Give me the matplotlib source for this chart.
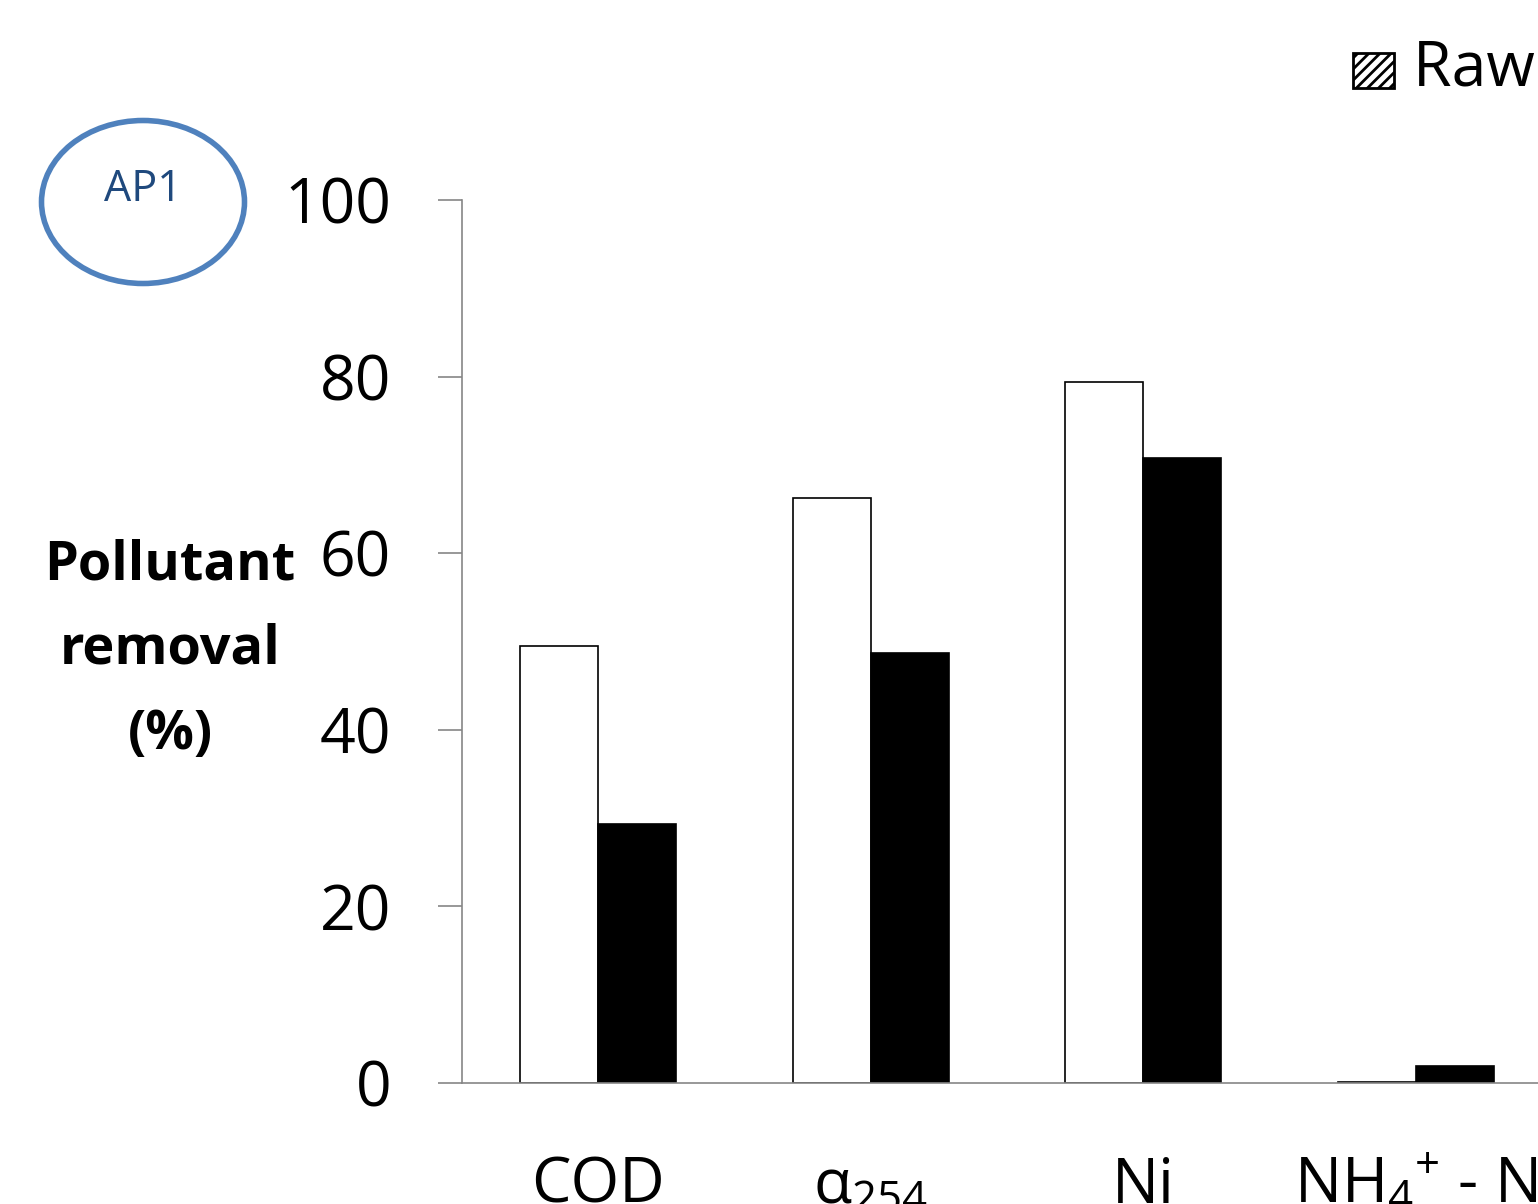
import matplotlib
matplotlib.use('Agg')
import matplotlib.pyplot as plt
from matplotlib.patches import Ellipse, Rectangle
import numpy as np

categories = ['COD', r'α$_{254}$', 'Ni', r'NH$_4$$^{+}$ - N', '']
raw_removal = [49.5, 66.2, 79.4, 0.1]
treated_removal = [29.3, 48.7, 70.8, 1.9]
y_ticks = [0, 20, 40, 60, 80, 100]

plt.rcParams['font.family'] = ['Open Sans', 'DejaVu Sans']
plt.rcParams['mathtext.default'] = 'regular'
plt.rcParams['hatch.linewidth'] = 2.0

fig = plt.figure(figsize=(15.38, 12.04), dpi=100)
# axes deliberately runs past the right edge (reference is cropped)
ax = fig.add_axes([0.3004, 0.1005, 0.886, 0.7334])

x = np.arange(len(raw_removal))
w = 0.286
ax.bar(x - w / 2, raw_removal, w, color='white', edgecolor='black', linewidth=1.2)
ax.bar(x + w / 2, treated_removal, w, color='black', edgecolor='black', linewidth=1.2)

ax.set_xlim(-0.5, 4.5)
ax.set_ylim(0, 100)
ax.set_yticks(y_ticks)
ax.tick_params(axis='y', labelsize=45, length=17, width=1.2, color='#868686', pad=34)
ax.set_xticks(np.arange(len(categories)))
ax.set_xticklabels(categories, fontsize=45)
ax.tick_params(axis='x', length=0, pad=52)

for s in ['top', 'right']:
    ax.spines[s].set_visible(False)
for s in ['left', 'bottom']:
    ax.spines[s].set_color('#868686')
    ax.spines[s].set_linewidth(1.2)

fig.text(170 / 1538, 1 - 650 / 1204, 'Pollutant\nremoval\n(%)', ha='center', va='center',
         fontsize=39, fontweight='bold', linespacing=1.75)

# AP1 label in an ellipse
ell = Ellipse((143 / 1538, 1 - 202 / 1204), 203 / 1538, 163 / 1204, transform=fig.transFigure,
              facecolor='none', edgecolor='#4F81BD', linewidth=4)
fig.add_artist(ell)
fig.text(143 / 1538, 1 - 190 / 1204, 'AP1', ha='center', va='center', fontsize=31, color='#1F497D')

# legend (cropped in the reference)
box = Rectangle((1353 / 1538, 1 - 88 / 1204), 41 / 1538, 35 / 1204, transform=fig.transFigure,
                facecolor='white', edgecolor='black', hatch='///', linewidth=2)
fig.add_artist(box)
fig.text(1413 / 1538, 1 - 70 / 1204, 'Raw leachate', ha='left', va='center', fontsize=45)

fig.savefig('out.png', dpi=100)
